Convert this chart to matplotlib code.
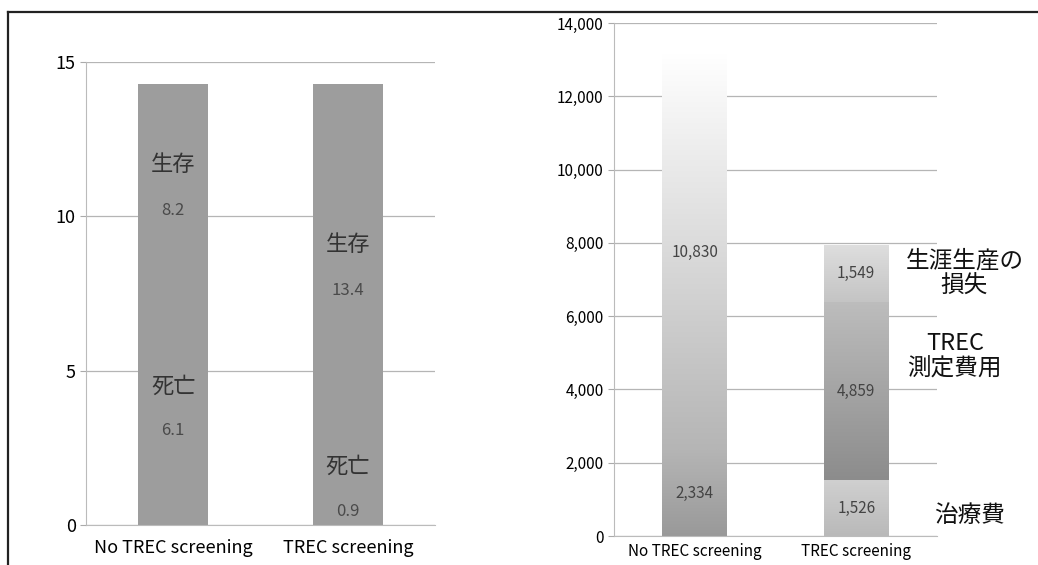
import numpy as np
import matplotlib.pyplot as plt
from matplotlib.ticker import FuncFormatter
from matplotlib.colors import LinearSegmentedColormap
from matplotlib.lines import Line2D

plt.rcParams['font.family'] = ['Noto Sans CJK JP', 'DejaVu Sans']

# Daten links: Überleben / Tod
gruppen = ['No TREC screening', 'TREC screening']
tod = [6.1, 0.9]
leben = [8.2, 13.4]

# Daten rechts: Kosten
behandlung = [2334, 1526]
trec_kosten = [0, 4859]
verlust = [10830, 1549]

fig = plt.figure(figsize=(10.38, 5.65), dpi=100)

# Rahmen (links und oben)
fig.add_artist(Line2D([8/1038, 8/1038], [0, 553/565], color='#222222', lw=1.6))
fig.add_artist(Line2D([8/1038, 1.0], [553/565, 553/565], color='#222222', lw=1.6))

# ---------------- linkes Diagramm ----------------
ax1 = fig.add_axes([0.0829, 0.0708, 0.3362, 0.8195])
x = np.arange(len(gruppen))
ax1.bar(x, tod, width=0.4, color='#9d9d9d', zorder=2)
ax1.bar(x, leben, width=0.4, bottom=tod, color='#9d9d9d', zorder=2)
for i in range(len(gruppen)):
    yt = tod[i] / 2
    ax1.text(x[i], yt, f'{tod[i]}', ha='center', va='center', fontsize=12, color='#4a4a4a', zorder=3)
    ax1.annotate('死亡', (x[i], yt), xytext=(0, 32), textcoords='offset points',
                 ha='center', va='center', fontsize=16, color='#333333', zorder=3)
    yl = tod[i] + leben[i] / 2
    ax1.text(x[i], yl, f'{leben[i]}', ha='center', va='center', fontsize=12, color='#4a4a4a', zorder=3)
    ax1.annotate('生存', (x[i], yl), xytext=(0, 33), textcoords='offset points',
                 ha='center', va='center', fontsize=16, color='#333333', zorder=3)
ax1.set_xlim(-0.5, 1.5)
ax1.set_ylim(0, 15)
ax1.set_yticks([0, 5, 10, 15])
ax1.set_xticks(x)
ax1.set_xticklabels(gruppen, fontsize=13)
ax1.tick_params(axis='y', labelsize=13, length=4, color='#aaaaaa')
ax1.tick_params(axis='x', length=0, pad=10)
ax1.yaxis.grid(True, color='#b5b5b5', lw=0.9)
ax1.set_axisbelow(True)
for s in ['top', 'right']:
    ax1.spines[s].set_visible(False)
for s in ['left', 'bottom']:
    ax1.spines[s].set_color('#bbbbbb')

# ---------------- rechtes Diagramm ----------------
ax2 = fig.add_axes([0.5915, 0.0513, 0.3112, 0.908])
x2 = np.arange(len(gruppen))


def verlauf(ax, balken, c_unten, c_oben):
    # Farbverlauf in einen Balken zeichnen
    cmap = LinearSegmentedColormap.from_list('v', [c_unten, c_oben])
    for b in balken:
        if b.get_height() <= 0:
            continue
        x0, y0 = b.get_x(), b.get_y()
        grad = np.linspace(0, 1, 256).reshape(-1, 1)
        im = ax.imshow(grad, cmap=cmap, origin='lower', aspect='auto',
                       extent=[x0, x0 + b.get_width(), y0, y0 + b.get_height()], zorder=2)
        im.set_clip_path(b)
        b.set_alpha(0)


b1 = ax2.bar(x2, behandlung, width=0.4, zorder=2)
b2 = ax2.bar(x2, trec_kosten, width=0.4, bottom=behandlung, zorder=2)
unten2 = np.array(behandlung) + np.array(trec_kosten)
b3 = ax2.bar(x2, verlust, width=0.4, bottom=unten2, zorder=2)

# Balken 1: durchgehender Verlauf, Balken 2: drei Segmente
verlauf(ax2, [b1[0]], '#999999', '#b5b5b5')
verlauf(ax2, [b3[0]], '#b5b5b5', '#ffffff')
verlauf(ax2, [b1[1]], '#b9b9b9', '#d0d0d0')
verlauf(ax2, [b2[1]], '#8c8c8c', '#bdbdbd')
verlauf(ax2, [b3[1]], '#c4c4c4', '#dedede')

for i in range(len(gruppen)):
    ax2.text(x2[i], behandlung[i] / 2, f'{behandlung[i]:,}', ha='center', va='center',
             fontsize=11, color='#444444', zorder=3)
    if trec_kosten[i] > 0:
        ax2.text(x2[i], behandlung[i] + trec_kosten[i] / 2, f'{trec_kosten[i]:,}', ha='center',
                 va='center', fontsize=11, color='#444444', zorder=3)
    ax2.text(x2[i], unten2[i] + verlust[i] / 2, f'{verlust[i]:,}', ha='center', va='center',
             fontsize=11, color='#444444', zorder=3)

ax2.set_xlim(-0.5, 1.5)
ax2.set_ylim(0, 14000)
ax2.set_yticks(np.arange(0, 14001, 2000))
ax2.yaxis.set_major_formatter(FuncFormatter(lambda v, p: f'{int(v):,}'))
ax2.set_xticks(x2)
ax2.set_xticklabels(gruppen, fontsize=11)
ax2.tick_params(axis='y', labelsize=11, length=4, color='#aaaaaa')
ax2.tick_params(axis='x', length=0, pad=5)
ax2.yaxis.grid(True, color='#b5b5b5', lw=0.9)
ax2.set_axisbelow(True)
for s in ['top', 'right']:
    ax2.spines[s].set_visible(False)
for s in ['left', 'bottom']:
    ax2.spines[s].set_color('#bbbbbb')

# Beschriftung rechts neben den Balken
ax2.text(1.67, unten2[1] + verlust[1] / 2, '生涯生産の\n損失', ha='center', va='center',
         fontsize=17, color='#111111', linespacing=1.15, clip_on=False)
ax2.text(1.61, 4900, 'TREC\n測定費用', ha='center', va='center',
         fontsize=17, color='#111111', linespacing=1.15, clip_on=False)
ax2.text(1.70, behandlung[1] / 2 - 200, '治療費', ha='center', va='center',
         fontsize=17, color='#111111', clip_on=False)

plt.savefig('out.png', dpi=100)
